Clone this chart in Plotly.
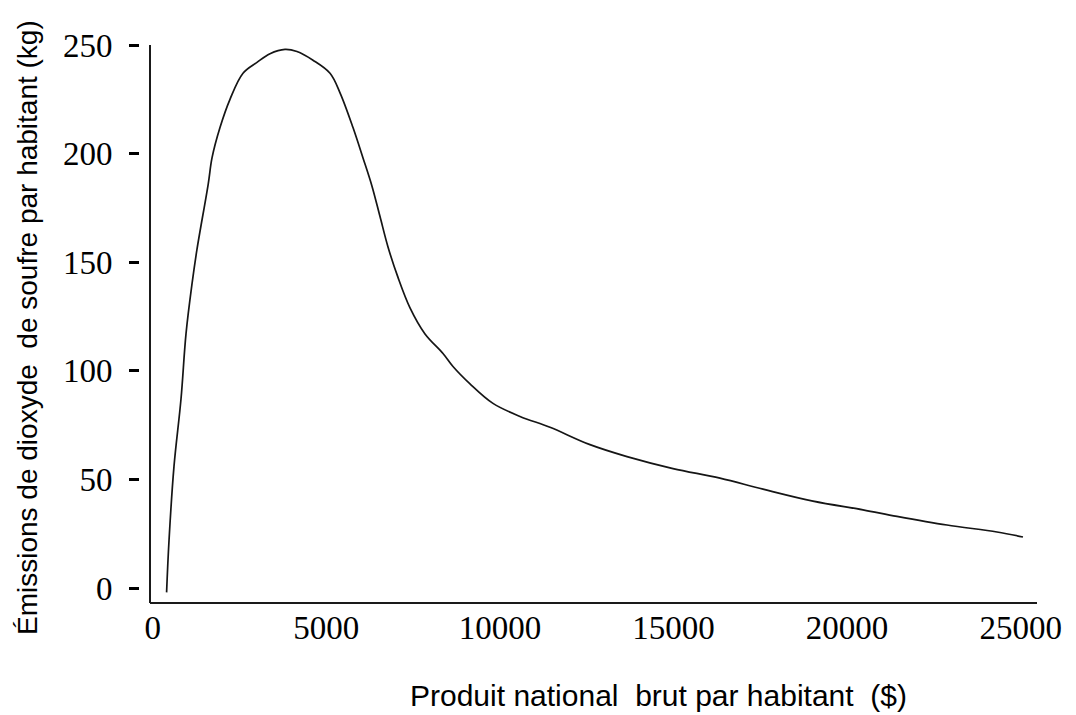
import plotly.graph_objects as go

# Data
gnp_per_capita = [400, 470, 613, 815, 959, 1132, 1276, 1599, 1708, 1938, 2226, 2601,
                  3004, 3378, 3810, 4156, 4617, 5107, 5395, 5769, 6057, 6316, 6547, 6777,
                  7065, 7411, 7843, 8361, 8649, 9139, 9801, 10579, 11443, 12595, 13661,
                  14986, 16339, 17578, 19018, 20458, 21437, 22877, 24317, 25066]
so2_per_capita = [-2, 22, 56, 87, 117, 140, 156, 186, 198, 212, 225, 237,
                  242, 246, 248, 247, 243, 237, 228, 212, 198, 185, 171, 157,
                  143, 129, 117, 108, 102, 94, 85, 79, 74, 66, 60.5,
                  55, 50.6, 45.5, 40, 36, 33, 29, 25.8, 23.5]

x_ticks = [0, 5000, 10000, 15000, 20000, 25000]
x_tick_labels = ["0", "5000", "10000", "15000", "20000", "25000"]
y_ticks = [0, 50, 100, 150, 200, 250]
y_tick_labels = ["0", "50", "100", "150", "200", "250"]

x_title = "Produit national\u00a0 brut par habitant\u00a0 ($)"
y_title = "Émissions de dioxyde\u00a0 de soufre par habitant (kg)"

# layout geometry (pixels, in figure coordinates; page adds an 8px body margin)
OFF = 8
W, H = 1076 - OFF, 715 - OFF
L, R, T, B = 140 - OFF, 39, 45 - OFF, 112
pw = W - L - R
ph = H - T - B


def px_x(sx):
    return (sx - OFF - L) / pw


def px_y(sy):
    return (T + ph - (sy - OFF)) / ph


fig = go.Figure()
fig.add_trace(go.Scatter(
    x=gnp_per_capita, y=so2_per_capita, mode="lines",
    line=dict(color="#151515", width=1.7, shape="spline", smoothing=1.0),
    showlegend=False, hoverinfo="skip"))

serif = "Liberation Serif, Times New Roman, serif"
sans = "Liberation Sans, Arial, sans-serif"

fig.update_layout(
    width=W, height=H,
    margin=dict(l=L, r=R, t=T, b=B, pad=0),
    paper_bgcolor="white", plot_bgcolor="white",
    xaxis=dict(range=[-366, 25470], tickvals=x_ticks, ticktext=x_tick_labels,
               showgrid=False, zeroline=False,
               showline=False, ticks="", tickfont=dict(family=serif, size=33, color="black"),
               ticklabelstandoff=2),
    yaxis=dict(range=[-6.9, 250], tickvals=y_ticks, ticktext=y_tick_labels,
               showgrid=False, zeroline=False,
               showline=False, ticks="outside", ticklen=10, tickwidth=3, tickcolor="black",
               tickfont=dict(family=serif, size=33, color="black"),
               ticklabelstandoff=10),
    annotations=[
        dict(text=x_title, xref="paper", yref="paper",
             x=px_x(658), y=px_y(695), xanchor="center", yanchor="middle",
             showarrow=False, font=dict(family=sans, size=30, color="black")),
        dict(text=y_title, xref="paper", yref="paper", textangle=-90,
             x=px_x(27), y=px_y(328), xanchor="center", yanchor="middle",
             showarrow=False, font=dict(family=sans, size=28, color="black")),
    ],
    shapes=[
        dict(type="line", xref="paper", yref="paper",
             x0=px_x(150), x1=px_x(150), y0=0, y1=1,
             line=dict(color="#1a1a1a", width=2)),
        dict(type="line", xref="paper", yref="paper",
             x0=px_x(150), x1=1, y0=0, y1=0,
             line=dict(color="#1a1a1a", width=2)),
    ],
)

fig.write_html("out.html")
